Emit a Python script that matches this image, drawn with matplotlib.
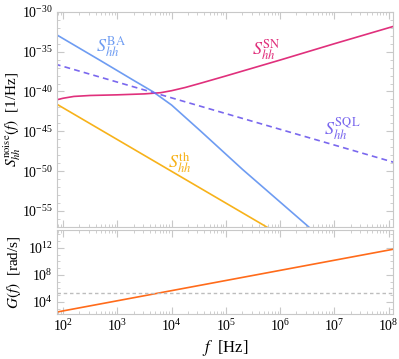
import numpy as np
import matplotlib
matplotlib.use("Agg")
from matplotlib import pyplot as plt
from matplotlib.ticker import LogLocator, NullFormatter

plt.rcParams['font.family'] = ['Liberation Serif', 'DejaVu Serif']
plt.rcParams['mathtext.fontset'] = 'stix'

# values, as log10
ba_logf = [1.85, 2.7, 3.3, 3.66, 4.0, 4.54, 5.31, 6.51, 7.0]
ba_logS = [-32.75, -36.16, -38.6, -40.04, -41.7, -45.0, -49.8, -56.9, -59.9]

sn_logf = [1.85, 2.0, 2.2, 2.5, 3.0, 3.5, 3.8, 4.0, 4.25, 4.54, 5.0, 6.0, 7.0, 8.1]
sn_logS = [-41.1, -40.85, -40.62, -40.5, -40.42, -40.3, -40.15, -39.9, -39.5,
           -38.95, -38.05, -36.05, -34.0, -31.8]

sql_logf = [1.85, 8.1]
sql_logS = [-36.55, -48.9]

th_logf = [1.85, 6.0]
th_logS = [-41.45, -58.0]

g_logf = [1.85, 8.1]
g_logG = [2.45, 11.8]
g_ref_log = 5.3

c_ba = '#6e9cf2'
c_sn = '#e0307c'
c_sql = '#7a68ee'
c_th = '#f7b21a'
c_g = '#ff6b1a'
frame = '#c8c8c8'

def p10(v):
    return 10.0 ** np.array(v)

fig = plt.figure(figsize=(3.99, 3.59), dpi=100)
ax1 = fig.add_axes([0.143, 0.368, 0.842, 0.599])
ax2 = fig.add_axes([0.143, 0.125, 0.842, 0.234], sharex=ax1)

ax1.plot(p10(ba_logf), p10(ba_logS), color=c_ba, lw=1.2)
ax1.plot(p10(sn_logf), p10(sn_logS), color=c_sn, lw=1.2)
ax1.plot(p10(sql_logf), p10(sql_logS), color=c_sql, lw=1.2, ls=(0, (3.5, 2.5)))
ax1.plot(p10(th_logf), p10(th_logS), color=c_th, lw=1.2)

ax1.text(10**2.88, 10**-34.4, r'$S_{hh}^{\mathrm{BA}}$', color=c_ba, fontsize=13, ha='center', va='center')
ax1.text(10**5.74, 10**-34.7, r'$S_{hh}^{\mathrm{SN}}$', color=c_sn, fontsize=13, ha='center', va='center')
ax1.text(10**7.14, 10**-44.8, r'$S_{hh}^{\mathrm{SQL}}$', color=c_sql, fontsize=13, ha='center', va='center')
ax1.text(10**4.14, 10**-49.0, r'$S_{hh}^{\mathrm{th}}$', color=c_th, fontsize=13, ha='center', va='center')

ax2.plot(p10(g_logf), p10(g_logG), color=c_g, lw=1.2)
ax2.axhline(10**g_ref_log, color='#bdbdbd', lw=1.0, ls=(0, (2.5, 2)))

for ax in (ax1, ax2):
    ax.set_xscale('log')
    ax.set_yscale('log')
    for s in ax.spines.values():
        s.set_color(frame)
    ax.tick_params(which='both', direction='in', top=True, right=True,
                   color=frame, labelsize=10, pad=3)
    ax.tick_params(which='major', length=5)
    ax.tick_params(which='minor', length=2.5)
    ax.xaxis.set_major_locator(LogLocator(base=10, numticks=20))
    ax.xaxis.set_minor_locator(LogLocator(base=10, subs=np.arange(2, 10), numticks=20))
    ax.xaxis.set_minor_formatter(NullFormatter())

ax1.set_xlim(10**1.89, 10**8.08)
ax1.set_ylim(1e-57, 1e-30)
ax1.yaxis.set_major_locator(LogLocator(base=10**5, numticks=20))
ax1.yaxis.set_minor_locator(LogLocator(base=10, subs=[1.0], numticks=40))
ax1.yaxis.set_minor_formatter(NullFormatter())
plt.setp(ax1.get_xticklabels(), visible=False)

ax2.set_ylim(10**2.2, 10**14.6)
ax2.yaxis.set_major_locator(LogLocator(base=10**4, numticks=20))
ax2.yaxis.set_minor_locator(LogLocator(base=10, subs=[1.0], numticks=40))
ax2.yaxis.set_minor_formatter(NullFormatter())

ax1.set_ylabel(r'$S_{hh}^{\mathrm{noise}}(f)$  [1/Hz]', fontsize=11)
ax2.set_ylabel(r'$G(f)$  [rad/s]', fontsize=11)
ax1.yaxis.set_label_coords(-0.1, 0.5)
ax2.yaxis.set_label_coords(-0.1, 0.5)
ax2.set_xlabel(r'$f$  [Hz]', fontsize=12, labelpad=3)

fig.savefig('out.png', dpi=100)
